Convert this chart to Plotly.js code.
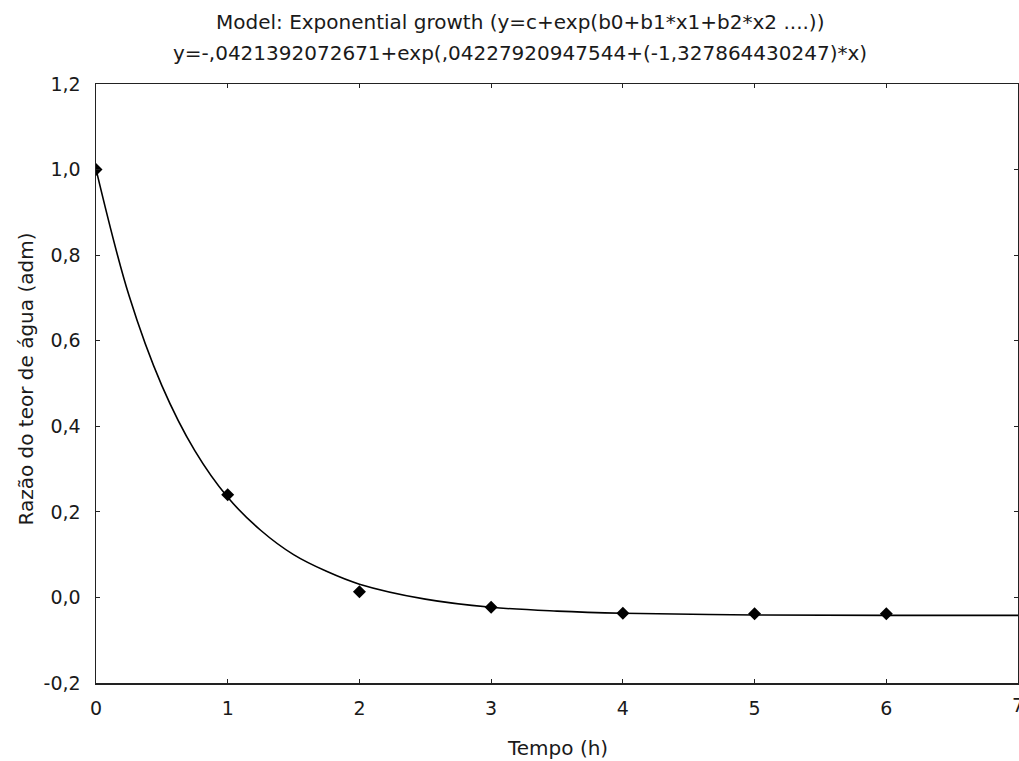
<!DOCTYPE html>
<html><head><meta charset="utf-8">
<script src="https://cdn.plot.ly/plotly-3.0.1.min.js"></script>
<style>html,body{margin:0;padding:0;background:#fff}#chart{width:1019px;height:761px}</style>
</head><body><div id="chart"></div>
<script>
const obsX = [0, 1, 2, 3, 4, 5, 6];
const obsY = [1.0, 0.24, 0.013, -0.023, -0.037, -0.038, -0.038];
const fitX = [0, 0.25, 0.5, 0.75, 1, 1.25, 1.5, 1.75, 2, 2.5, 3, 3.5, 4, 5, 6, 7];
const fitY = [1.001, 0.706, 0.495, 0.343, 0.234, 0.157, 0.100, 0.061, 0.031, -0.004, -0.023, -0.032, -0.037, -0.041, -0.042, -0.042];
const xTicks = [0, 1, 2, 3, 4, 5, 6, 7];
const xTickText = ['0', '1', '2', '3', '4', '5', '6', '7'];
const yTicks = [-0.2, 0, 0.2, 0.4, 0.6, 0.8, 1.0, 1.2];
const yTickText = ['-0,2', '0,0', '0,2', '0,4', '0,6', '0,8', '1,0', '1,2'];
const titleLines = ['Model: Exponential growth (y=c+exp(b0+b1*x1+b2*x2 ....))',
  'y=-,0421392072671+exp(,04227920947544+(-1,327864430247)*x)'];
const xTitle = 'Tempo (h)';
const yTitle = 'Razão do teor de água (adm)';

const fam = 'DejaVu Sans, Liberation Sans, sans-serif';
const col = '#1a1a1a';
const tickFont = {family: fam, size: 19, color: col};
const titleFont = {family: fam, size: 20, color: col};
const xtFont = {family: fam, size: 20, color: col};
const ytFont = {family: fam, size: 20, color: col};
const last = xTicks.length - 1;
Plotly.newPlot('chart', [
  {x: fitX, y: fitY, mode: 'lines', line: {color: '#000', width: 1.6, shape: 'spline'}, hoverinfo: 'skip'},
  {x: obsX, y: obsY, mode: 'markers', marker: {symbol: 'diamond', size: 10, color: '#000'}}
], {
  width: 1019, height: 761,
  margin: {l: 96, r: 1, t: 84, b: 78},
  showlegend: false,
  paper_bgcolor: '#fff', plot_bgcolor: '#fff',
  font: tickFont,
  xaxis: {range: [0, 7], tickvals: xTicks, ticktext: xTickText, showgrid: false, zeroline: false,
    showline: true, linecolor: '#222', linewidth: 1.5, mirror: 'ticks', ticks: 'inside', ticklen: 4, tickcolor: '#222',
    ticklabelstandoff: 8, tickfont: tickFont},
  yaxis: {range: [-0.2, 1.2], tickvals: yTicks, ticktext: yTickText, showgrid: false, zeroline: false,
    showline: true, linecolor: '#222', linewidth: 1.5, mirror: 'ticks', ticks: 'inside', ticklen: 4, tickcolor: '#222',
    ticklabelstandoff: 10, tickfont: tickFont},
  annotations: [
    {text: titleLines[0], xref: 'paper', yref: 'paper', x: 0.5, y: 1, xanchor: 'center', yanchor: 'middle', xshift: -37, yshift: 62, showarrow: false, font: titleFont},
    {text: titleLines[1], xref: 'paper', yref: 'paper', x: 0.5, y: 1, xanchor: 'center', yanchor: 'middle', xshift: -37, yshift: 31, showarrow: false, font: titleFont},
    {text: xTitle, xref: 'paper', yref: 'paper', x: 0.5, y: 0, xanchor: 'center', yanchor: 'middle', yshift: -65, showarrow: false, font: xtFont},
    {text: yTitle, xref: 'paper', yref: 'paper', x: 0, y: 0.5, xanchor: 'center', yanchor: 'middle', xshift: -71, yshift: 4, textangle: -90, showarrow: false, font: ytFont},
    {text: xTickText[last], xref: 'x', yref: 'paper', x: xTicks[last], y: 0, xanchor: 'center', yanchor: 'middle', yshift: -22, showarrow: false, font: tickFont}
  ]
}, {displayModeBar: false, staticPlot: true});
</script></body></html>
